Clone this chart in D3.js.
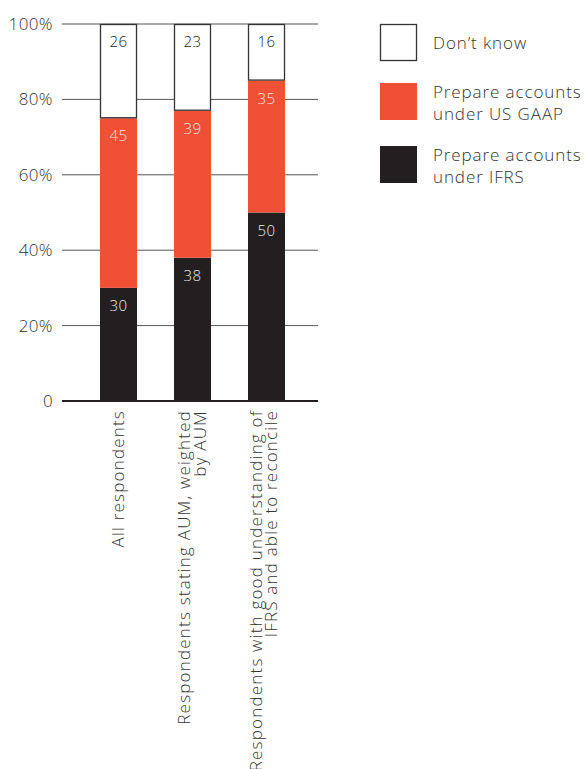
<!DOCTYPE html>
<html>
<head>
<meta charset="utf-8">
<script src="https://cdn.jsdelivr.net/npm/d3@7/dist/d3.min.js"></script>
<style>
  html, body { margin: 0; padding: 0; background: #fff; }
  svg { display: block; font-family: "Open Sans", "Noto Sans", sans-serif; }
</style>
</head>
<body>
<svg id="chart" width="586" height="769"></svg>
<script>
// Respondent groups (axis labels split into lines)
const categories = [
  ["All respondents"],
  ["Respondents stating AUM, weighted", "by AUM"],
  ["Respondents with good understanding of", "IFRS and able to reconcile"]
];
// Series, stacked from the baseline upward
const seriesNames = ["Prepare accounts under IFRS", "Prepare accounts under US GAAP", "Don\u2019t know"];
const ifrs     = [30, 38, 50];
const usGaap   = [45, 39, 35];
const dontKnow = [26, 23, 16];
const yTicks = [0, 20, 40, 60, 80, 100];
const yTickLabels = ["0", "20%", "40%", "60%", "80%", "100%"];

const colors = ["#231f20", "#ef5036", "#ffffff"];
const labelColors = ["#e8e8e8", "#fde3dc", "#231f20"];

const svg = d3.select("#chart");
const plotLeft = 62, plotRight = 318, plotTop = 24, plotBottom = 401;

const x = d3.scaleBand().domain(d3.range(categories.length))
  .range([62, 323]).paddingInner(0.5).paddingOuter(0.5135);
const y = d3.scaleLinear().domain([0, 100]).range([plotBottom, plotTop]);

// gridlines
svg.append("g").selectAll("line").data(yTicks.filter(d => d > 0)).join("line")
  .attr("x1", plotLeft).attr("x2", plotRight)
  .attr("y1", d => y(d)).attr("y2", d => y(d))
  .attr("stroke", "#555").attr("stroke-width", 1);

// y tick labels
svg.append("g").selectAll("text").data(yTicks).join("text")
  .attr("x", 53).attr("y", d => y(d)).attr("dy", "0.35em")
  .attr("text-anchor", "end").attr("font-size", 17).attr("font-weight", 300)
  .attr("letter-spacing", 0.4)
  .attr("fill", "#333").text((d, i) => yTickLabels[i]);

// stacked segments
const seriesValues = [ifrs, usGaap, dontKnow];
const rows = categories.map((c, i) => ({ v0: ifrs[i], v1: usGaap[i], v2: dontKnow[i] }));
const stack = d3.stack().keys(["v0", "v1", "v2"])(rows);

stack.forEach((layer, si) => {
  const g = svg.append("g");
  layer.forEach((seg, ci) => {
    const lo = seg[0], hi = Math.min(seg[1], 100);
    const bx = x(ci), bw = x.bandwidth();
    if (si === 2) {
      g.append("rect").attr("x", bx + 0.5).attr("y", y(hi) + 0.5)
        .attr("width", bw - 1).attr("height", y(lo) - y(hi) - 1)
        .attr("fill", colors[si]).attr("stroke", "#333").attr("stroke-width", 1.3);
    } else {
      g.append("rect").attr("x", bx).attr("y", y(hi))
        .attr("width", bw).attr("height", y(lo) - y(hi))
        .attr("fill", colors[si]);
    }
    g.append("text").attr("x", bx + bw / 2).attr("y", y(hi) + 23)
      .attr("text-anchor", "middle").attr("font-size", 15).attr("font-weight", 300)
      .attr("letter-spacing", 0.4)
      .attr("fill", labelColors[si]).text(seriesValues[si][ci]);
  });
});

// baseline
svg.append("line").attr("x1", plotLeft).attr("x2", plotRight)
  .attr("y1", plotBottom).attr("y2", plotBottom)
  .attr("stroke", "#231f20").attr("stroke-width", 2.2);

// rotated category labels
const lineH = 15.5;
categories.forEach((lines, ci) => {
  const cx = x(ci) + x.bandwidth() / 2;
  const offset = (lines.length - 1) * lineH / 2;
  lines.forEach((t, li) => {
    const lx = cx - offset + li * lineH + 5.5 - (ci === 2 ? 2.5 : 0);
    svg.append("text")
      .attr("transform", `translate(${lx},410) rotate(-90)`)
      .attr("text-anchor", "end").attr("font-size", 17).attr("font-weight", 300)
      .attr("letter-spacing", 1.2)
      .attr("fill", "#333").text(t);
  });
});

// legend
const legendItems = [
  { color: colors[2], lines: ["Don\u2019t know"], y: 24 },
  { color: colors[1], lines: ["Prepare accounts", "under US GAAP"], y: 83 },
  { color: colors[0], lines: ["Prepare accounts", "under IFRS"], y: 146 }
];
const lg = svg.append("g");
legendItems.forEach((it, k) => {
  if (k === 0) {
    lg.append("rect").attr("x", 380.5).attr("y", it.y + 0.5).attr("width", 36).attr("height", 36)
      .attr("fill", "#fff").attr("stroke", "#333").attr("stroke-width", 1.3);
  } else {
    lg.append("rect").attr("x", 380).attr("y", it.y).attr("width", 37).attr("height", 37)
      .attr("fill", it.color);
  }
  const base = it.lines.length === 1 ? it.y + 25 : it.y + 15;
  it.lines.forEach((t, li) => {
    lg.append("text").attr("x", 433).attr("y", base + li * 21.5)
      .attr("font-size", 17).attr("font-weight", 300).attr("letter-spacing", 0.9)
      .attr("fill", "#333").text(t);
  });
});
</script>
</body>
</html>
